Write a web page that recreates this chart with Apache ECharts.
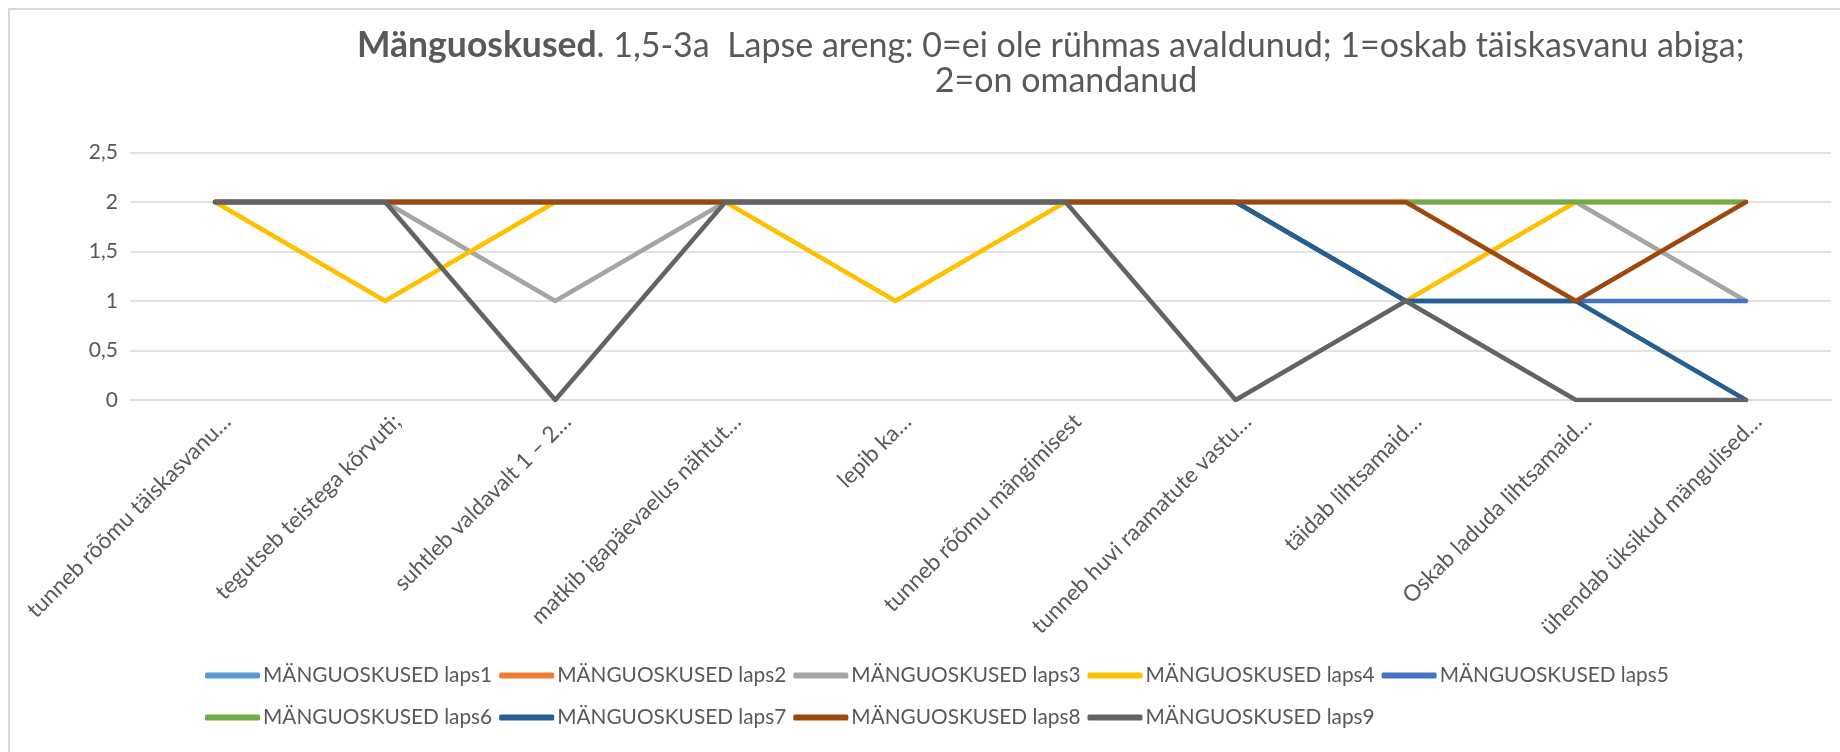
<!DOCTYPE html>
<html>
<head>
<meta charset="utf-8">
<title>Mänguoskused</title>
<script src="https://cdn.jsdelivr.net/npm/echarts@6/dist/echarts.min.js"></script>
<style>
  html, body { margin: 0; padding: 0; background: #fff; }
  #chart { width: 1840px; height: 752px; }
</style>
</head>
<body>
<div id="chart"></div>
<script>
// kategooriad (x-telg)
const categories = [
  'tunneb rõõmu täiskasvanu…',
  'tegutseb teistega kõrvuti;',
  'suhtleb valdavalt 1 – 2…',
  'matkib igapäevaelus nähtut…',
  'lepib ka…',
  'tunneb rõõmu mängimisest',
  'tunneb huvi raamatute vastu…',
  'täidab lihtsamaid…',
  'Oskab laduda lihtsamaid…',
  'ühendab üksikud mängulised…'
]
const yTicks = [0, 0.5, 1, 1.5, 2, 2.5]

// laste hinnangud
const laps1 = [2, 2, 2, 2, 2, 2, 2, 2, 2, 2]
const laps2 = [2, 2, 2, 2, 2, 2, 2, 2, 2, 2]
const laps3 = [2, 2, 1, 2, 2, 2, 2, 2, 2, 1]
const laps4 = [2, 1, 2, 2, 1, 2, 2, 1, 2, 2]
const laps5 = [2, 2, 2, 2, 2, 2, 2, 1, 1, 1]
const laps6 = [2, 2, 2, 2, 2, 2, 2, 2, 2, 2]
const laps7 = [2, 2, 2, 2, 2, 2, 2, 1, 1, 0]
const laps8 = [2, 2, 2, 2, 2, 2, 2, 2, 1, 2]
const laps9 = [2, 2, 0, 2, 2, 2, 0, 1, 0, 0]

const seriesNames = ['MÄNGUOSKUSED laps1', 'MÄNGUOSKUSED laps2', 'MÄNGUOSKUSED laps3',
  'MÄNGUOSKUSED laps4', 'MÄNGUOSKUSED laps5', 'MÄNGUOSKUSED laps6',
  'MÄNGUOSKUSED laps7', 'MÄNGUOSKUSED laps8', 'MÄNGUOSKUSED laps9']
const seriesData = [laps1, laps2, laps3, laps4, laps5, laps6, laps7, laps8, laps9]
const colors = ['#5b9bd5', '#ed7d31', '#a5a5a5', '#ffc000', '#4472c4', '#70ad47', '#255e91', '#9e480e', '#636363']

const FONT = 'Lato'
const TEXT = '#595959'

const ec = echarts.init(document.getElementById('chart'), null, { renderer: 'canvas' })

const option = {
  backgroundColor: '#fff',
  color: colors,
  animation: false,
  title: [{
    // esimene rida
    left: 357,
    top: 26,
    padding: 0,
    text: '{b|Mänguoskused}. 1,5-3a  Lapse areng: 0=ei ole rühmas avaldunud; 1=oskab täiskasvanu abiga;',
    textStyle: {
      fontFamily: FONT,
      fontSize: 34,
      fontWeight: 'normal',
      color: TEXT,
      lineHeight: 40,
      rich: {
        b: { fontFamily: FONT, fontSize: 35.5, fontWeight: 'bold', color: TEXT, lineHeight: 40 }
      }
    }
  }, {
    // teine rida
    left: 1066,
    top: 61,
    padding: 0,
    textAlign: 'center',
    text: '2=on omandanud',
    textStyle: { fontFamily: FONT, fontSize: 34, fontWeight: 'normal', color: TEXT, lineHeight: 40 }
  }],
  legend: {
    left: 205,
    top: 658,
    width: 1520,
    padding: 0,
    itemGap: 7,
    itemWidth: 55,
    itemHeight: 6,
    icon: 'roundRect',
    textStyle: { fontFamily: FONT, fontSize: 20.8, lineHeight: 35, color: TEXT, padding: [0, 0, 0, -2] },
    data: seriesNames
  },
  grid: { left: 130, right: 9, top: 152.5, bottom: 352, containLabel: false },
  xAxis: {
    type: 'category',
    data: categories,
    boundaryGap: true,
    axisLine: { lineStyle: { color: '#d9d9d9', width: 1.5 } },
    axisTick: { show: false },
    axisLabel: {
      interval: 0,
      rotate: 45,
      margin: 6,
      verticalAlign: 'top',
      lineHeight: 34,
      fontFamily: FONT,
      fontSize: 22.5,
      color: TEXT
    }
  },
  yAxis: {
    type: 'value',
    min: yTicks[0],
    max: yTicks[yTicks.length - 1],
    interval: 0.5,
    axisLine: { show: false },
    axisTick: { show: false },
    splitLine: { lineStyle: { color: '#d9d9d9', width: 1.5 } },
    axisLabel: {
      margin: 12,
      fontFamily: FONT,
      fontSize: 21,
      color: TEXT,
      formatter: v => String(v).replace('.', ',')
    }
  },
  graphic: [{
    type: 'rect',
    shape: { x: 9, y: 9, width: 1854, height: 780 },
    style: { fill: 'none', stroke: '#d9d9d9', lineWidth: 2 },
    silent: true,
    z: -1
  }],
  series: seriesNames.map((name, i) => ({
    name: name,
    type: 'line',
    data: seriesData[i],
    symbol: 'none',
    lineStyle: { width: 4.5, color: colors[i], cap: 'round', join: 'round' },
    itemStyle: { color: colors[i] }
  }))
}

ec.setOption(option)
</script>
</body>
</html>
